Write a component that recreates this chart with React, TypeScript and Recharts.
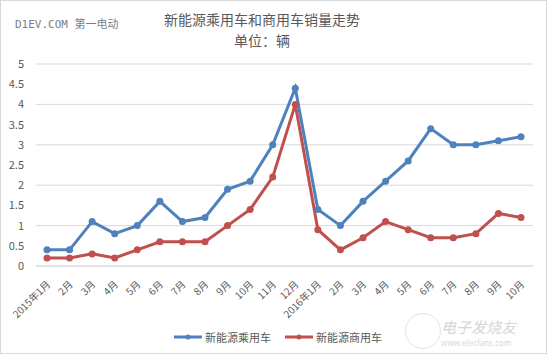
import { CartesianGrid, Line, LineChart, XAxis, YAxis } from "recharts";

const months = [
  "2015年1月", "2月", "3月", "4月", "5月", "6月", "7月", "8月", "9月", "10月", "11月", "12月",
  "2016年1月", "2月", "3月", "4月", "5月", "6月", "7月", "8月", "9月", "10月",
];
const passenger = [0.4, 0.4, 1.1, 0.8, 1.0, 1.6, 1.1, 1.2, 1.9, 2.1, 3.0, 4.4, 1.4, 1.0, 1.6, 2.1, 2.6, 3.4, 3.0, 3.0, 3.1, 3.2];
const commercial = [0.2, 0.2, 0.3, 0.2, 0.4, 0.6, 0.6, 0.6, 1.0, 1.4, 2.2, 4.0, 0.9, 0.4, 0.7, 1.1, 0.9, 0.7, 0.7, 0.8, 1.3, 1.2];
const yTicks = [0, 0.5, 1, 1.5, 2, 2.5, 3, 3.5, 4, 4.5, 5];

const series = [
  { key: "passenger", name: "新能源乘用车", color: "#4F81BD" },
  { key: "commercial", name: "新能源商用车", color: "#C0504D" },
];

const data = months.map((m, i) => ({ month: m, passenger: passenger[i], commercial: commercial[i] }));

const font = "'Noto Sans CJK SC', 'Noto Sans', sans-serif";

const MonthTick = (props: any) => {
  const { x, y, payload } = props;
  return (
    <text
      x={x + 4}
      y={y + 11}
      transform={`rotate(-45 ${x + 4} ${y + 11})`}
      textAnchor="end"
      fontSize={10}
      fill="#595959"
      fontFamily={font}
    >
      {payload.value}
    </text>
  );
};

export default function App() {
  return (
    <div
      style={{
        position: "fixed",
        left: 0,
        top: 0,
        width: 545,
        height: 352,
        border: "1px solid #d9d9d9",
        background: "#fff",
        fontFamily: font,
        overflow: "hidden",
      }}
    >
      <div style={{ position: "absolute", left: 14, top: 14, fontSize: 11, color: "#7f7f7f", fontFamily: "'DejaVu Sans Mono', monospace" }}>
        D1EV.COM <span style={{ fontFamily: font }}>第一电动</span>
      </div>
      <div style={{ position: "absolute", left: 0, width: 522, top: 8, textAlign: "center", fontSize: 14, lineHeight: "21px", color: "#595959" }}>
        新能源乘用车和商用车销量走势
        <br />
        单位：辆
      </div>
      <div style={{ position: "absolute", top: -1, left: -1 }}>
        <LineChart width={547} height={356} data={data} margin={{ top: 64, right: 14, bottom: 30, left: 0 }}>
          <CartesianGrid vertical={false} stroke="#d9d9d9" />
          <XAxis
            dataKey="month"
            interval={0}
            tick={<MonthTick />}
            tickLine={false}
            axisLine={{ stroke: "#d9d9d9" }}
            padding={{ left: 11, right: 12 }}
            height={60}
          />
          <YAxis
            domain={[0, 5]}
            ticks={yTicks}
            width={36}
            axisLine={false}
            tickLine={false}
            tick={{ fontSize: 11, fill: "#595959", fontFamily: font }}
            tickMargin={6}
          />
          {series.map((s) => (
            <Line
              key={s.key}
              dataKey={s.key}
              name={s.name}
              stroke={s.color}
              strokeWidth={3}
              dot={{ r: 3.5, fill: s.color, stroke: s.color, strokeWidth: 0 }}
              isAnimationActive={false}
            />
          ))}
        </LineChart>
      </div>
      <div style={{ position: "absolute", top: 328, left: 173, display: "flex", gap: 14, fontSize: 11, color: "#595959" }}>
        {series.map((s) => (
          <div key={s.key} style={{ display: "flex", alignItems: "center" }}>
            <svg width={28} height={8}>
              <line x1={0} y1={4} x2={28} y2={4} stroke={s.color} strokeWidth={3} />
              <circle cx={14} cy={4} r={2.5} fill={s.color} />
            </svg>
            <span style={{ marginLeft: 3 }}>{s.name}</span>
          </div>
        ))}
      </div>
      <div style={{ position: "absolute", left: 404, top: 312, width: 34, height: 34, borderRadius: "50%", border: "1px solid #e3e3e3" }} />
      <div style={{ position: "absolute", left: 440, top: 315, fontSize: 15, color: "#d6d6d6", fontStyle: "italic" }}>电子发烧友</div>
      <div style={{ position: "absolute", left: 440, top: 336, fontSize: 8, color: "#d6d6d6" }}>www.elecfans.com</div>
    </div>
  );
}
